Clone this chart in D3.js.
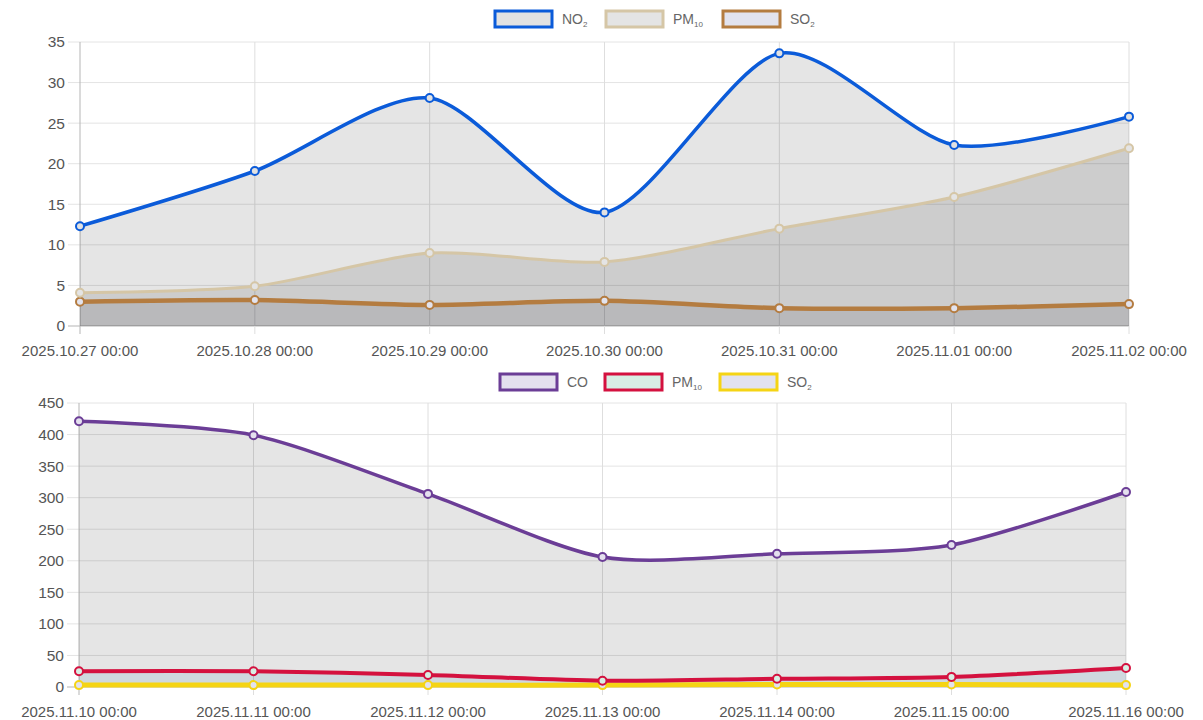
<!DOCTYPE html>
<html>
<head>
<meta charset="utf-8">
<script src="https://cdn.jsdelivr.net/npm/d3@7"></script>
<style>
  html, body { margin: 0; padding: 0; background: #fff; }
  svg { display: block; font-family: "Liberation Sans", Arial, sans-serif; }
</style>
</head>
<body>
<svg id="chart" width="1203" height="720"></svg>
<script>
// Week 1 readings
const datesA = ["2025.10.27 00:00", "2025.10.28 00:00", "2025.10.29 00:00", "2025.10.30 00:00",
                "2025.10.31 00:00", "2025.11.01 00:00", "2025.11.02 00:00"];
const no2A  = [12.3, 19.1, 28.1, 14.0, 33.6, 22.3, 25.8];
const pm10A = [4.1, 4.9, 9.0, 7.9, 12.0, 15.9, 21.9];
const so2A  = [3.0, 3.2, 2.6, 3.1, 2.2, 2.2, 2.7];
const ticksA = [0, 5, 10, 15, 20, 25, 30, 35];

// Week 2 readings
const datesB = ["2025.11.10 00:00", "2025.11.11 00:00", "2025.11.12 00:00", "2025.11.13 00:00",
                "2025.11.14 00:00", "2025.11.15 00:00", "2025.11.16 00:00"];
const coB   = [421, 399, 306, 206, 211, 225, 309];
const pm10B = [25, 25, 19, 10, 13, 16, 30];
const so2B  = [3, 3, 3, 3, 4, 4, 3];
const ticksB = [0, 50, 100, 150, 200, 250, 300, 350, 400, 450];

const svg = d3.select("#chart");

function drawChart(cfg) {
  const g = svg.append("g");
  const x = d3.scalePoint().domain(cfg.dates).range([cfg.left, cfg.right]);
  const y = d3.scaleLinear().domain([0, cfg.ticks[cfg.ticks.length - 1]]).range([cfg.bottom, cfg.top]);

  // grid
  g.selectAll(".hg").data(cfg.ticks).join("line")
    .attr("x1", cfg.left - 12).attr("x2", cfg.right)
    .attr("y1", d => y(d)).attr("y2", d => y(d))
    .attr("stroke", d => d === 0 ? "#b5b5b5" : "#e4e4e4").attr("stroke-width", 1);
  g.selectAll(".vg").data(cfg.dates).join("line")
    .attr("x1", d => x(d)).attr("x2", d => x(d))
    .attr("y1", cfg.top).attr("y2", cfg.bottom + 8)
    .attr("stroke", (d, i) => i === 0 ? "#b5b5b5" : "#dedede").attr("stroke-width", 1);

  // y tick labels
  g.selectAll(".yl").data(cfg.ticks).join("text")
    .attr("x", cfg.left - 15).attr("y", d => y(d)).attr("dy", "0.35em")
    .attr("text-anchor", "end").attr("font-size", 15.5).attr("fill", "#555")
    .text(d => d);

  // x tick labels
  g.selectAll(".xl").data(cfg.dates).join("text")
    .attr("x", d => x(d)).attr("y", cfg.bottom + 30)
    .attr("text-anchor", "middle").attr("font-size", 15).attr("fill", "#555")
    .text(d => d);

  const curve = d3.curveCardinal.tension(0.2);
  const area = d3.area().x((d, i) => x(cfg.dates[i])).y0(y(0)).y1(d => y(d)).curve(curve);
  const line = d3.line().x((d, i) => x(cfg.dates[i])).y(d => y(d)).curve(curve);

  const rev = cfg.series.slice().reverse();
  // fills
  rev.forEach(s => {
    g.append("path").datum(s.values).attr("d", area).attr("fill", s.area);
  });
  // lines and points, first series on top
  rev.forEach(s => {
    g.append("path").datum(s.values).attr("d", line)
      .attr("fill", "none").attr("stroke", s.color).attr("stroke-width", s.width);
    g.selectAll(null).data(s.values).join("circle")
      .attr("cx", (d, i) => x(cfg.dates[i])).attr("cy", d => y(d)).attr("r", 4)
      .attr("fill", s.box).attr("stroke", s.color).attr("stroke-width", 2);
  });

  // legend
  cfg.series.forEach(s => {
    const lg = g.append("g");
    lg.append("rect").attr("x", s.lx).attr("y", cfg.legendY - 8).attr("width", 57).attr("height", 16)
      .attr("fill", s.box).attr("stroke", s.color).attr("stroke-width", 3);
    const t = lg.append("text").attr("x", s.lx + 67).attr("y", cfg.legendY).attr("dy", "0.35em")
      .attr("font-size", 14).attr("fill", "#666");
    t.append("tspan").text(s.name);
    if (s.sub) t.append("tspan").attr("font-size", 8).attr("dy", "0.35em").text(s.sub);
  });
}

drawChart({
  dates: datesA, ticks: ticksA,
  left: 80, right: 1129, top: 42, bottom: 326, legendY: 19,
  series: [
    { name: "NO", sub: "2", values: no2A, color: "#0b5bd9", width: 3.5, area: "rgba(0,0,0,0.1)", box: "#e2e2e2", lx: 495 },
    { name: "PM", sub: "10", values: pm10A, color: "#d5c6a6", width: 3, area: "rgba(0,0,0,0.1)", box: "#e4e4e4", lx: 606 },
    { name: "SO", sub: "2", values: so2A, color: "#b47c40", width: 4.5, area: "rgba(10,10,40,0.1)", box: "#e2e3ee", lx: 723 }
  ]
});

drawChart({
  dates: datesB, ticks: ticksB,
  left: 79, right: 1126, top: 403, bottom: 687, legendY: 382,
  series: [
    { name: "CO", sub: "", values: coB, color: "#6b3d96", width: 3.5, area: "rgba(0,0,0,0.1)", box: "#e4e0ee", lx: 500 },
    { name: "PM", sub: "10", values: pm10B, color: "#d4113f", width: 4, area: "rgba(60,140,200,0.12)", box: "#d8eee4", lx: 605 },
    { name: "SO", sub: "2", values: so2B, color: "#f5d414", width: 5, area: "rgba(60,60,140,0.1)", box: "#e2e2ee", lx: 720 }
  ]
});
</script>
</body>
</html>
